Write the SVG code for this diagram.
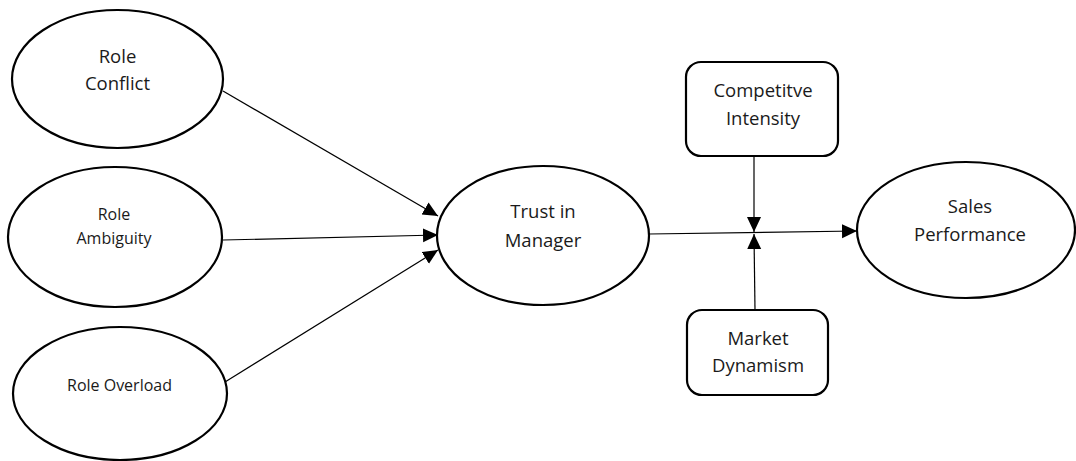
<svg xmlns="http://www.w3.org/2000/svg" width="1076" height="461" viewBox="0 0 1076 461">
<style>
.node{fill:#fff;stroke:#000;stroke-width:2.2}
.t{font-family:"Open Sans","Noto Sans",sans-serif;font-size:18.5px;fill:#1a1a1a;text-anchor:middle}
.s{font-size:16px}
.c{stroke:#000;stroke-width:1.2;fill:none;marker-end:url(#ah)}
</style>
<defs>
<marker id="ah" markerUnits="userSpaceOnUse" markerWidth="16" markerHeight="15" refX="15" refY="7" orient="auto">
<path d="M0,0 L15,7 L0,14 z" fill="#000"/>
</marker>
</defs>
<rect width="1076" height="461" fill="#fff"/>
<g id="connectors">
<line class="c" x1="223" y1="91" x2="438" y2="216"/>
<line class="c" x1="223" y1="240" x2="438" y2="235"/>
<line class="c" x1="225" y1="382" x2="438" y2="250"/>
<line class="c" x1="649" y1="234" x2="857" y2="231"/>
<line class="c" x1="754" y1="156" x2="754" y2="232"/>
<line class="c" x1="755" y1="310" x2="754" y2="234"/>
</g>
<g id="role-conflict">
<ellipse class="node" cx="117.5" cy="79" rx="105.5" ry="69"/>
<text class="t" x="117.5" y="63">Role</text>
<text class="t" x="117.5" y="90">Conflict</text>
</g>
<g id="role-ambiguity">
<ellipse class="node" cx="115" cy="237" rx="107" ry="70"/>
<text class="t s" x="114" y="220">Role</text>
<text class="t s" x="114" y="244">Ambiguity</text>
</g>
<g id="role-overload">
<ellipse class="node" cx="120" cy="393.5" rx="107" ry="66.5"/>
<text class="t s" x="119.5" y="391">Role Overload</text>
</g>
<g id="trust-in-manager">
<ellipse class="node" cx="543" cy="235.5" rx="106" ry="69.5"/>
<text class="t" x="543" y="218">Trust in</text>
<text class="t" x="543" y="247">Manager</text>
</g>
<g id="competitive-intensity">
<rect class="node" x="686" y="62" width="152" height="94" rx="15" ry="15"/>
<text class="t" x="763" y="97">Competitve</text>
<text class="t" x="763" y="125">Intensity</text>
</g>
<g id="market-dynamism">
<rect class="node" x="687" y="310" width="141" height="85" rx="15" ry="15"/>
<text class="t" x="758" y="345">Market</text>
<text class="t" x="758" y="372">Dynamism</text>
</g>
<g id="sales-performance">
<ellipse class="node" cx="966" cy="230" rx="109" ry="68"/>
<text class="t" x="970" y="213">Sales</text>
<text class="t" x="970" y="241">Performance</text>
</g>
</svg>
